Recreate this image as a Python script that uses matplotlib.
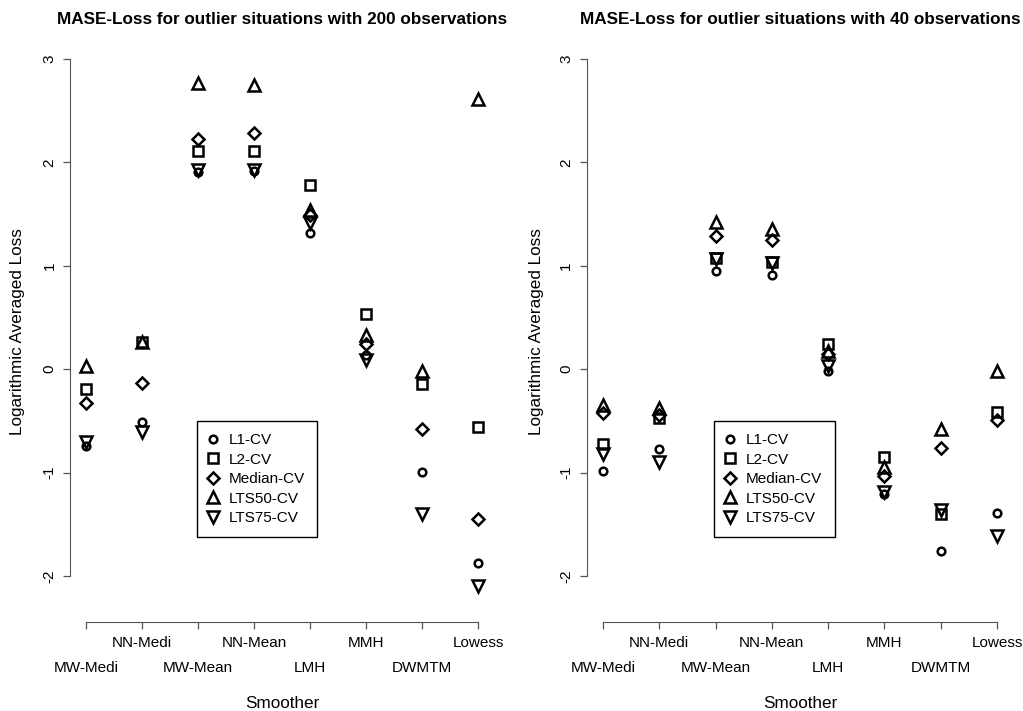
import matplotlib
matplotlib.use("Agg")
import matplotlib.pyplot as plt

plt.rcParams['font.family'] = ['Liberation Sans', 'DejaVu Sans']

smoothers = ["MW-Medi", "NN-Medi", "MW-Mean", "NN-Mean", "LMH", "MMH", "DWMTM", "Lowess"]
series_names = ["L1-CV", "L2-CV", "Median-CV", "LTS50-CV", "LTS75-CV"]

# 200 observations
L1_200 = [-0.74, -0.51, 1.91, 1.92, 1.32, 0.14, -0.99, -1.87]
L2_200 = [-0.19, 0.26, 2.11, 2.11, 1.78, 0.53, -0.14, -0.56]
Med_200 = [-0.33, -0.13, 2.23, 2.28, 1.49, 0.24, -0.58, -1.45]
LTS50_200 = [0.03, 0.26, 2.77, 2.75, 1.54, 0.33, -0.02, 2.61]
LTS75_200 = [-0.70, -0.61, 1.93, 1.93, 1.41, 0.09, -1.40, -2.10]

# 40 observations
L1_40 = [-0.98, -0.77, 0.95, 0.91, -0.02, -1.21, -1.76, -1.39]
L2_40 = [-0.72, -0.47, 1.08, 1.04, 0.24, -0.85, -1.40, -0.41]
Med_40 = [-0.42, -0.44, 1.29, 1.25, 0.15, -1.03, -0.76, -0.49]
LTS50_40 = [-0.35, -0.38, 1.42, 1.36, 0.18, -0.95, -0.58, -0.02]
LTS75_40 = [-0.82, -0.90, 1.07, 1.03, 0.03, -1.19, -1.36, -1.61]

titles = ["MASE-Loss for outlier situations with 200 observations",
          "MASE-Loss for outlier situations with 40 observations"]
yticks = [-2, -1, 0, 1, 2, 3]

markers = ['o', 's', 'D', '^', 'v']
msizes = [5.5, 6.5, 6.5, 8.5, 8.5]
mew = 1.8

W, H = 1023, 711
fig = plt.figure(figsize=(W / 100, H / 100), dpi=100)

panels = [
    dict(data=[L1_200, L2_200, Med_200, LTS50_200, LTS75_200],
         left=70.3, right=493.7, title=titles[0], ylab_x=18),
    dict(data=[L1_40, L2_40, Med_40, LTS50_40, LTS75_40],
         left=587.2, right=1012.8, title=titles[1], ylab_x=536),
]
top_px, bot_px = 38.3, 596.7
FS = 11
LFS = 12.3

for p in panels:
    ax = fig.add_axes([p['left'] / W, 1 - bot_px / H, (p['right'] - p['left']) / W, (bot_px - top_px) / H])
    xs = list(range(1, len(smoothers) + 1))
    handles = []
    for vals, m, ms, name in zip(p['data'], markers, msizes, series_names):
        h, = ax.plot(xs, vals, linestyle='none', marker=m, markersize=ms,
                     markerfacecolor='none', markeredgecolor='black', markeredgewidth=mew,
                     label=name)
        handles.append(h)
    ax.set_xlim(0.72, 8.28)
    ax.set_ylim(-2.2, 3.2)
    for s in ['top', 'right']:
        ax.spines[s].set_visible(False)
    ax.spines['left'].set_bounds(-2, 3)
    ax.spines['left'].set_color('#555555')
    ax.spines['bottom'].set_bounds(1, 8)
    ax.spines['bottom'].set_position(('outward', 18))
    ax.spines['bottom'].set_color('#555555')
    ax.set_yticks(yticks)
    ax.set_yticklabels([str(t) for t in yticks])
    ax.tick_params(axis='y', length=5, width=0.9, color='#555555', pad=5, labelsize=FS, labelrotation=90)
    for lab in ax.get_yticklabels():
        lab.set_va('center')
    ax.set_xticks(xs)
    ax.set_xticklabels(smoothers)
    ax.tick_params(axis='x', length=5, width=0.9, color='#555555', labelsize=FS)
    for i, t in enumerate(ax.xaxis.get_major_ticks()):
        t.set_pad(5 if i % 2 == 1 else 23)
    cx = (p['left'] + p['right']) / 2
    fig.text(cx / W, 1 - 20 / H, p['title'], ha='center', va='center', fontsize=12.3, fontweight='bold')
    fig.text(cx / W, 1 - 704 / H, "Smoother", ha='center', va='center', fontsize=LFS)
    fig.text(p['ylab_x'] / W, 1 - 332 / H, "Logarithmic Averaged Loss", ha='center', va='center',
             rotation=90, fontsize=LFS)
    leg = ax.legend(handles=handles, loc='upper left', bbox_to_anchor=(2.98, -0.50),
                    bbox_transform=ax.transData, borderaxespad=0, fancybox=False,
                    edgecolor='black', framealpha=1, fontsize=FS, handlelength=0.5,
                    handletextpad=0.77, labelspacing=0.36, borderpad=0.8, numpoints=1)
    leg.get_frame().set_linewidth(1.0)

fig.savefig("out.png", dpi=100)
